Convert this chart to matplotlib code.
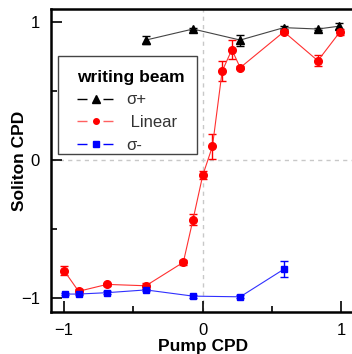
import matplotlib
matplotlib.use("Agg")
import matplotlib.pyplot as plt
from matplotlib.ticker import MultipleLocator
from matplotlib.lines import Line2D
from matplotlib.patches import Rectangle

plt.rcParams['font.family'] = ['Liberation Sans', 'DejaVu Sans']

# sigma+ writing beam
sp_x = [-0.41, -0.07, 0.27, 0.585, 0.83, 0.98]
sp_y = [0.87, 0.95, 0.87, 0.96, 0.95, 0.97]
sp_e = [0.03, 0.01, 0.04, 0.01, 0.01, 0.02]

# linear writing beam
lin_x = [-1.0, -0.895, -0.69, -0.41, -0.14, -0.07, 0.0, 0.07, 0.14, 0.21, 0.27, 0.585, 0.83, 0.99]
lin_y = [-0.80, -0.95, -0.90, -0.91, -0.74, -0.43, -0.11, 0.10, 0.645, 0.80, 0.67, 0.93, 0.72, 0.93]
lin_e = [0.03, 0.02, 0.01, 0.02, 0.02, 0.04, 0.03, 0.09, 0.07, 0.07, 0.01, 0.01, 0.04, 0.02]

# sigma- writing beam
sm_x = [-0.995, -0.895, -0.69, -0.41, -0.07, 0.27, 0.585]
sm_y = [-0.97, -0.97, -0.96, -0.94, -0.985, -0.99, -0.79]
sm_e = [0.01, 0.01, 0.01, 0.01, 0.01, 0.01, 0.06]

labels = ['σ+', ' Linear', 'σ-']
legend_title = 'writing beam'

fig = plt.figure(figsize=(3.52, 3.54), dpi=100)
W, H = 352, 354
ax = fig.add_axes([51 / W, (H - 312) / H, (356 - 51) / W, (312 - 9) / H])

ax.axhline(0, color='#c8c8c8', ls=(0, (3, 3)), lw=1, zorder=0)
ax.axvline(0, color='#c8c8c8', ls=(0, (3, 3)), lw=1, zorder=0)

ax.errorbar(sp_x, sp_y, yerr=sp_e, color='#444444', ecolor='black', marker='^', mfc='black', mec='black',
            ms=6, lw=0.8, elinewidth=1, capsize=3)
ax.errorbar(lin_x, lin_y, yerr=lin_e, color='#ff3030', ecolor='red', marker='o', mfc='red', mec='red',
            ms=5.5, lw=0.8, elinewidth=1, capsize=3)
ax.errorbar(sm_x, sm_y, yerr=sm_e, color='#3030ff', ecolor='blue', marker='s', mfc='blue', mec='blue',
            ms=4.5, lw=0.8, elinewidth=1, capsize=3)

ax.set_xlim(-1.094, 1.105)
ax.set_ylim(-1.10, 1.095)
ax.xaxis.set_major_locator(MultipleLocator(1))
ax.yaxis.set_major_locator(MultipleLocator(1))
ax.xaxis.set_minor_locator(MultipleLocator(0.5))
ax.yaxis.set_minor_locator(MultipleLocator(0.5))
ax.tick_params(which='major', direction='in', length=8, width=1.2, labelsize=12, pad=8)
ax.tick_params(which='minor', direction='in', length=4, width=1.2)
for s in ax.spines.values():
    s.set_linewidth(1.8)

ax.set_xlabel('Pump CPD', fontsize=12.5, fontweight='bold', labelpad=1)
ax.set_ylabel('Soliton CPD', fontsize=12.5, fontweight='bold')
ax.yaxis.set_label_coords(-0.08, 0.5)

# legend frame drawn manually
ax.add_patch(Rectangle(((58 - 51) / 305, (312 - 154) / 303), (197 - 58) / 305, (154 - 56) / 303,
                       transform=ax.transAxes, facecolor='white', edgecolor='#444444', lw=1.0, zorder=3))
dash = (0, (7.2, 11.5, 7.2, 11.5))
handles = [
    Line2D([], [], color='black', ls=dash, lw=1, marker='^', ms=6, mfc='black', mec='black'),
    Line2D([], [], color='#ff6060', ls=dash, lw=1, marker='o', ms=4, mfc='red', mec='red'),
    Line2D([], [], color='blue', ls=dash, lw=1, marker='s', ms=4, mfc='blue', mec='blue'),
]
leg = ax.legend(handles, labels, title=legend_title, loc='upper left',
                bbox_to_anchor=((77 - 51) / 305, (312 - 70) / 303), borderaxespad=0, borderpad=0,
                frameon=False, fontsize=12, title_fontproperties={'weight': 'bold', 'size': 12.5},
                handlelength=2.28, labelspacing=0.45, handletextpad=0.66)
leg._legend_box.align = 'left'
leg.set_zorder(4)
for t in leg.get_texts():
    t.set_color('#333333')

fig.savefig('out.png', dpi=100)
